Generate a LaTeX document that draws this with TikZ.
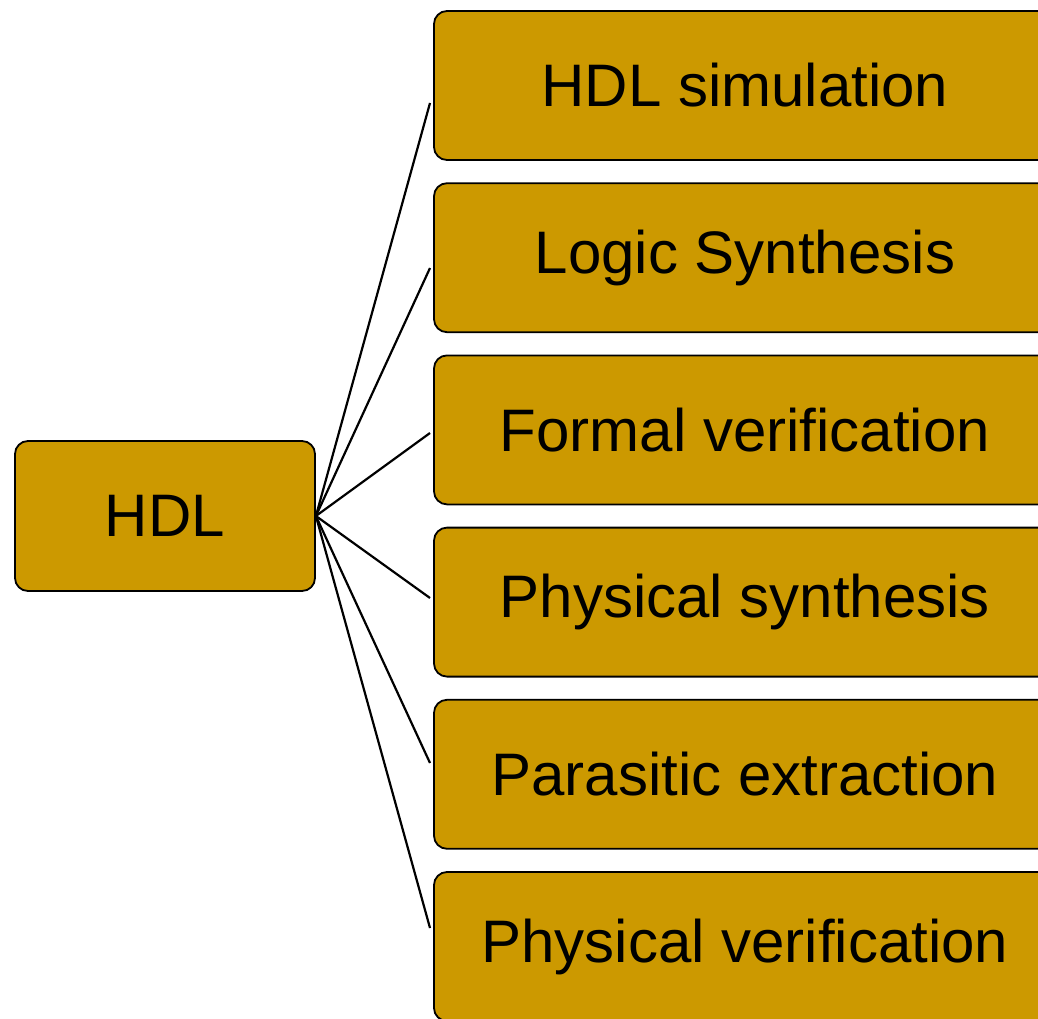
\documentclass[tikz,border=0pt]{standalone}
\usepackage{fontspec}
\setmainfont{Liberation Sans}
\definecolor{boxgold}{RGB}{204,153,0}
\tikzset{
  toolbox/.style={draw=black, line width=1.8pt, fill=boxgold, rounded corners=13pt,
    minimum width=622pt, minimum height=149pt, inner sep=0pt,
    font=\fontsize{60}{72}\selectfont},
  rootbox/.style={toolbox, minimum width=300pt, minimum height=150pt},
  branch/.style={draw=black, line width=2.2pt}
}
\begin{document}
\begin{tikzpicture}[x=1pt,y=-1pt]
  \useasboundingbox (0,0) rectangle (1038,1019);
  \clip (0,0) rectangle (1038,1019);

  % root
  \node[rootbox] (hdl) at (165,516) {HDL};

  % tool boxes (they run past the right and bottom edges)
  \node[toolbox] (b1) at (745,85.5)  {HDL simulation};
  \node[toolbox] (b2) at (745,257.7) {Logic Synthesis};
  \node[toolbox] (b3) at (745,429.9) {Formal verification};
  \node[toolbox] (b4) at (745,602.1) {Physical synthesis};
  \node[toolbox] (b5) at (745,774.3) {Parasitic extraction};
  \node[toolbox] (b6) at (745,946.5) {Physical verification};

  % free ends of the branch lines, just left of the boxes
  \coordinate (e1) at (430,103);
  \coordinate (e2) at (430,268);
  \coordinate (e3) at (430,433);
  \coordinate (e4) at (430,598);
  \coordinate (e5) at (430,763);
  \coordinate (e6) at (430,928);

  \foreach \i in {1,...,6}
    \draw[branch] (hdl.east) -- (e\i);
\end{tikzpicture}
\end{document}
